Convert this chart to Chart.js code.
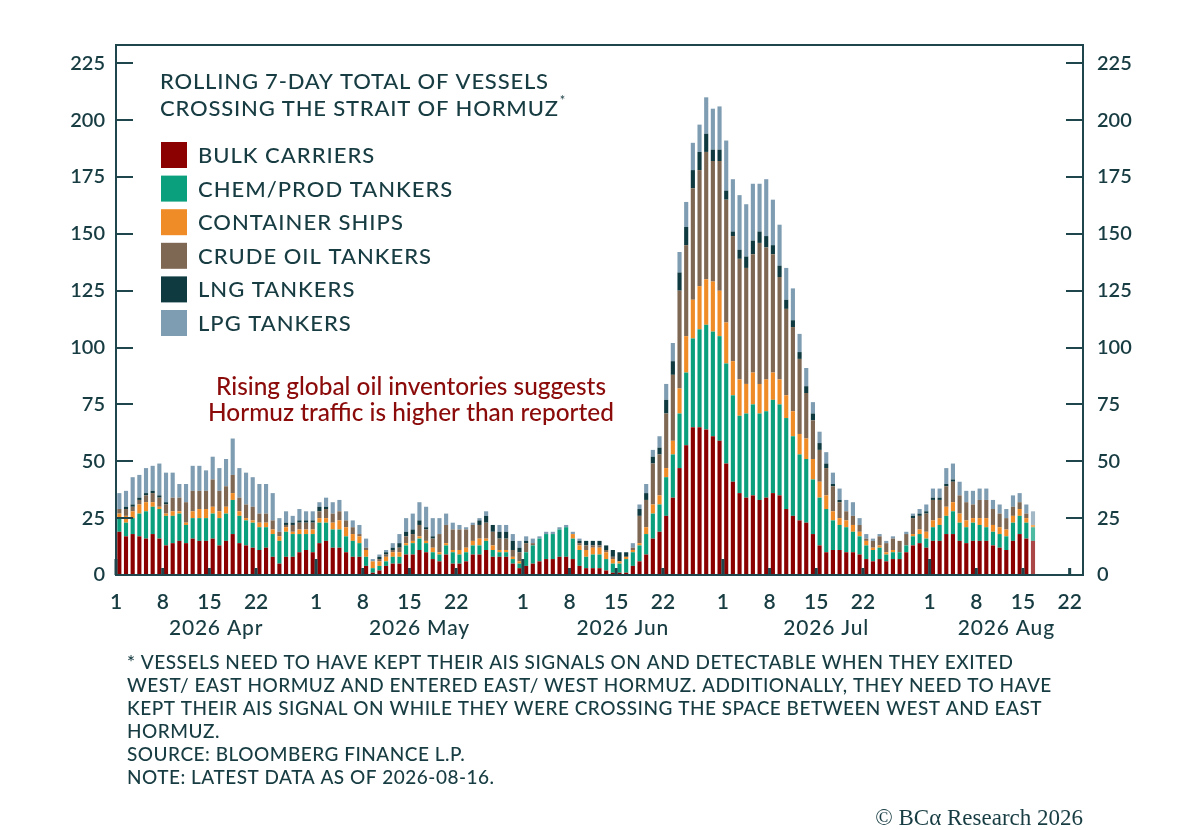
<!DOCTYPE html>
<html>
<head>
<meta charset="utf-8">
<script src="https://cdn.jsdelivr.net/npm/chart.js@4.4.1/dist/chart.umd.min.js"></script>
<style>
  html, body { margin: 0; padding: 0; background: #fff; }
  #wrap { width: 1200px; height: 830px; }
</style>
</head>
<body>
<div id="wrap"><canvas id="hormuz" width="1200" height="830"></canvas></div>
<script>
const FONT = 'Lato, "Open Sans", sans-serif';
const INK = '#173c42';
const AXIS = '#1e464c';

// one category per day, 2026-04-01 .. 2026-08-23 (axis runs a week past the last bar)
const days = [];
for (let d = new Date(Date.UTC(2026, 3, 1)); d <= new Date(Date.UTC(2026, 7, 23)); d.setUTCDate(d.getUTCDate() + 1)) {
  days.push(d.toISOString().slice(0, 10));
}
const tickDays = [1, 8, 15, 22];
const yTicks = [0, 25, 50, 75, 100, 125, 150, 175, 200, 225];
const monthLabels = [['2026-04', '2026 Apr'], ['2026-05', '2026 May'], ['2026-06', '2026 Jun'], ['2026-07', '2026 Jul'], ['2026-08', '2026 Aug']];

// rolling 7-day totals, Apr 1 .. Aug 16
const bulk = [
  19,17,18,17,16,18,16,13,14,15, 14,16,15,15,16,13,15,18,14,13, 12,11,12,8,5,8,8,10,11,10,
  14,15,12,12,10,8,8,4,1,2, 4,5,5,9,9,11,10,7,6,9, 5,5,6,9,9,11,8,8,8,5, 3,
  4,5,6,7,7,8,8,7,4, 3,3,3,2,1,1,1,4,6,9, 16,19,26,34,47,57,65,65,64,61, 59,
  49,41,36,34,35,33,34,36,35, 29,26,24,23,18,13,10,11,11,10, 10,9,7,6,7,6,7,7,10,13, 14,12,
  15,15,18,18,15,14,15,15, 15,13,12,11,15,18,16,15
];
const chem = [
  6,6,7,10,12,12,13,13,12,12, 8,9,10,10,11,12,12,15,12,11, 11,10,9,10,10,11,10,8,7,8,
  9,8,8,8,7,7,6,4,2,2, 2,3,3,4,5,5,4,3,3,4, 5,4,4,4,4,4,3,2,2,2, 2,
  6,8,10,11,11,12,13,9,7, 5,6,6,5,4,4,6,6,7,9, 11,12,17,19,24,32,39,43,46,46, 46,
  44,38,34,37,40,38,38,41,40, 40,35,29,28,24,21,19,13,11,11, 9,8,6,5,5,3,3,3,3,4, 4,4,
  6,7,8,10,8,7,8,7, 6,6,6,6,8,8,7,6
];
const container = [
  2,3,3,4,4,2,1,1,2,1, 1,3,4,4,3,3,3,3,2,1, 1,2,2,2,2,2,1,2,2,2,
  2,2,3,4,4,3,3,3,3,2, 2,2,2,1,1,1,1,2,1,1, 1,2,2,2,3,1,2,1,1,1, 1,
  0,0,0,0,0,0,0,2,2, 3,3,3,3,2,1,1,1,1,3, 4,4,4,6,11,16,17,19,20,22, 20,
  18,15,16,13,14,13,14,12,11, 10,11,9,9,9,7,6,4,3,3, 3,2,2,1,1,1,1,0,0,1, 2,3,
  3,3,4,4,4,3,2,3, 4,3,3,3,3,3,2,1
];
const crude = [
  2,3,2,2,3,4,4,4,6,6, 9,9,8,8,12,9,9,8,6,6, 6,4,4,4,2,1,3,3,3,3,
  3,4,4,4,3,3,1,1,0,1, 1,1,2,3,3,5,5,4,8,8, 9,9,8,7,6,7,6,5,5,3, 4,
  4,1,0,0,0,0,0,0,1, 2,1,1,1,1,0,0,1,12,12, 18,18,24,29,43,40,49,51,56,53, 57,
  54,55,53,51,52,62,58,52,45, 38,37,33,20,17,14,12,11,7,4, 4,3,1,3,4,4,5,5,5,7, 6,8,
  9,8,9,9,8,8,6,8, 8,7,6,5,4,3,2,0
];
const lng = [
  0,1,1,1,1,1,1,1,0,0, 0,0,0,0,0,0,0,0,0,0, 0,0,0,0,0,1,1,1,1,1,
  2,1,0,0,0,0,0,0,0,1, 1,1,2,2,2,2,1,1,0,0, 0,0,0,0,2,3,3,3,3,4, 2,
  1,0,0,0,0,0,0,0,1, 2,2,2,2,3,4,2,0,3,3, 3,3,6,6,8,8,8,8,8,5, 5,
  4,2,4,5,6,5,5,4,5, 4,3,3,3,3,3,2,1,1,0, 0,0,0,0,0,0,0,0,0,1, 1,1,
  1,1,1,1,0,0,0,0, 0,0,0,0,0,0,0,0
];
const lpg = [
  7,7,12,10,11,11,14,13,11,6, 8,11,11,9,10,10,12,16,13,14, 13,13,13,12,6,5,3,5,4,4,
  2,4,5,5,4,3,4,4,1,1, 1,2,4,6,7,8,9,8,7,5, 3,2,1,1,1,2,0,3,3,3, 3,
  2,2,1,1,1,1,1,1,1, 0,0,0,0,0,0,0,2,2,4, 3,5,7,8,9,11,12,12,16,18, 19,
  22,23,24,23,25,21,25,20,18, 14,14,8,8,5,5,5,5,5,5, 6,3,2,1,1,1,1,0,1,1, 2,3,
  4,4,7,7,6,5,6,5, 5,4,4,4,5,4,4,6
];

const series = [
  ['BULK CARRIERS', bulk, '#8b0000'],
  ['CHEM/PROD TANKERS', chem, '#0a9f7d'],
  ['CONTAINER SHIPS', container, '#ef8c27'],
  ['CRUDE OIL TANKERS', crude, '#7e6753'],
  ['LNG TANKERS', lng, '#0e3a40'],
  ['LPG TANKERS', lpg, '#7f9db2'],
];
const lastIdx = bulk.length - 1;

function fade(hex, a) {
  const n = parseInt(hex.slice(1), 16);
  return `rgba(${n >> 16},${(n >> 8) & 255},${n & 255},${a})`;
}

const decorations = {
  id: 'decorations',
  afterDatasetsDraw(chart) {
    const { ctx, chartArea: a, scales: { x, y } } = chart;
    const step = x.getPixelForValue(1) - x.getPixelForValue(0);
    ctx.save();
    ctx.fillStyle = AXIS;
    days.forEach((iso, i) => {
      const day = +iso.slice(8);
      if (!tickDays.includes(day)) return;
      const px = x.getPixelForValue(i) - step / 2;
      const h = day === 1 ? 16 : 7;
      ctx.fillRect(px - 1.5, a.bottom - h, 3, h);
    });
    ctx.strokeStyle = AXIS;
    ctx.lineWidth = 2;
    yTicks.slice(1).forEach(v => {
      const py = Math.round(y.getPixelForValue(v));
      ctx.beginPath();
      ctx.moveTo(a.left, py); ctx.lineTo(a.left + 17, py);
      ctx.moveTo(a.right - 17, py); ctx.lineTo(a.right, py);
      ctx.stroke();
    });
    ctx.strokeRect(a.left, a.top, a.right - a.left, a.bottom - a.top);
    ctx.restore();
  },
  afterDraw(chart) {
    const { ctx, chartArea: a, scales: { x } } = chart;
    const step = x.getPixelForValue(1) - x.getPixelForValue(0);
    ctx.save();
    ctx.fillStyle = INK;
    ctx.textBaseline = 'middle';
    ctx.textAlign = 'center';
    ctx.font = `500 21px ${FONT}`;
    ctx.letterSpacing = '0.8px';
    monthLabels.forEach(([key, text]) => {
      const idx = days.map((d, i) => d.startsWith(key) ? i : -1).filter(i => i >= 0);
      const x0 = x.getPixelForValue(idx[0]) - step / 2;
      const x1 = Math.min(x.getPixelForValue(idx[idx.length - 1]) + step / 2, a.right);
      ctx.fillText(text, (x0 + x1) / 2, 628);
    });

    // title + legend
    ctx.textAlign = 'left';
    ctx.textBaseline = 'alphabetic';
    ctx.font = `500 22px ${FONT}`;
    ctx.letterSpacing = '0.8px';
    ctx.fillText('ROLLING 7-DAY TOTAL OF VESSELS', 160, 89);
    ctx.fillText('CROSSING THE STRAIT OF HORMUZ', 160, 116);
    const w = ctx.measureText('CROSSING THE STRAIT OF HORMUZ').width;
    ctx.font = `13px ${FONT}`;
    ctx.fillText('*', 161 + w, 105);
    ctx.font = `500 22px ${FONT}`;
    ctx.letterSpacing = '1px';
    series.forEach(([name, , color], i) => {
      const top = 142 + i * 33.6;
      ctx.fillStyle = color;
      ctx.fillRect(161, top, 26, 26);
      ctx.fillStyle = INK;
      ctx.fillText(name, 198, top + 21);
    });

    // annotation
    ctx.letterSpacing = '0px';
    ctx.fillStyle = '#8b0a0a';
    ctx.textAlign = 'center';
    ctx.font = `500 24.4px ${FONT}`;
    ctx.fillText('Rising global oil inventories suggests', 411, 395);
    ctx.fillText('Hormuz traffic is higher than reported', 411, 421);

    // footnotes
    ctx.fillStyle = INK;
    ctx.textAlign = 'left';
    ctx.font = `500 19px ${FONT}`;
    ctx.letterSpacing = '0.5px';
    [
      '* VESSELS NEED TO HAVE KEPT THEIR AIS SIGNALS ON AND DETECTABLE WHEN THEY EXITED',
      'WEST/ EAST HORMUZ AND ENTERED EAST/ WEST HORMUZ. ADDITIONALLY, THEY NEED TO HAVE',
      'KEPT THEIR AIS SIGNAL ON WHILE THEY WERE CROSSING THE SPACE BETWEEN WEST AND EAST',
      'HORMUZ.',
      'SOURCE: BLOOMBERG FINANCE L.P.',
      'NOTE: LATEST DATA AS OF 2026-08-16.',
    ].forEach((line, i) => ctx.fillText(line, 127, 669 + i * 23));

    ctx.letterSpacing = '0px';
    ctx.textAlign = 'right';
    ctx.font = `23px "Liberation Serif", serif`;
    ctx.fillText('\u00A9 BC\u03B1 Research 2026', 1083, 825);
    ctx.restore();
  }
};

const yAxis = (position, pad, width) => ({
  position,
  min: 0,
  max: 233,
  stacked: true,
  afterBuildTicks: s => { s.ticks = yTicks.map(v => ({ value: v })); },
  afterFit: s => { s.width = width; },
  grid: { display: false, drawTicks: false },
  border: { display: false },
  ticks: { color: INK, padding: pad, font: { family: FONT, size: 20, weight: 600 } },
});

new Chart(document.getElementById('hormuz'), {
  type: 'bar',
  data: {
    labels: days,
    datasets: series.map(([label, data, color]) => ({
      label,
      data,
      backgroundColor: c => c.dataIndex === lastIdx ? fade(color, 0.72) : color,
      borderWidth: 0,
      barPercentage: 0.62,
      categoryPercentage: 1,
      yAxisID: 'y',
    })),
  },
  options: {
    responsive: false,
    animation: false,
    layout: { padding: { top: 45, left: 0, right: 0, bottom: 0 } },
    plugins: { legend: { display: false }, tooltip: { enabled: false } },
    scales: {
      x: {
        stacked: true,
        afterFit: s => { s.height = 255; },
        grid: { display: false, drawTicks: false },
        border: { display: false },
        ticks: {
          autoSkip: false,
          maxRotation: 0,
          padding: 15,
          labelOffset: -3.3,
          color: INK,
          font: { family: FONT, size: 21, weight: 600 },
          callback(value) {
            const day = +this.getLabelForValue(value).slice(8);
            return tickDays.includes(day) ? String(day) : null;
          },
        },
      },
      y: yAxis('left', 11, 116),
      y2: yAxis('right', 14, 117),
    },
  },
  plugins: [decorations],
});
</script>
</body>
</html>
